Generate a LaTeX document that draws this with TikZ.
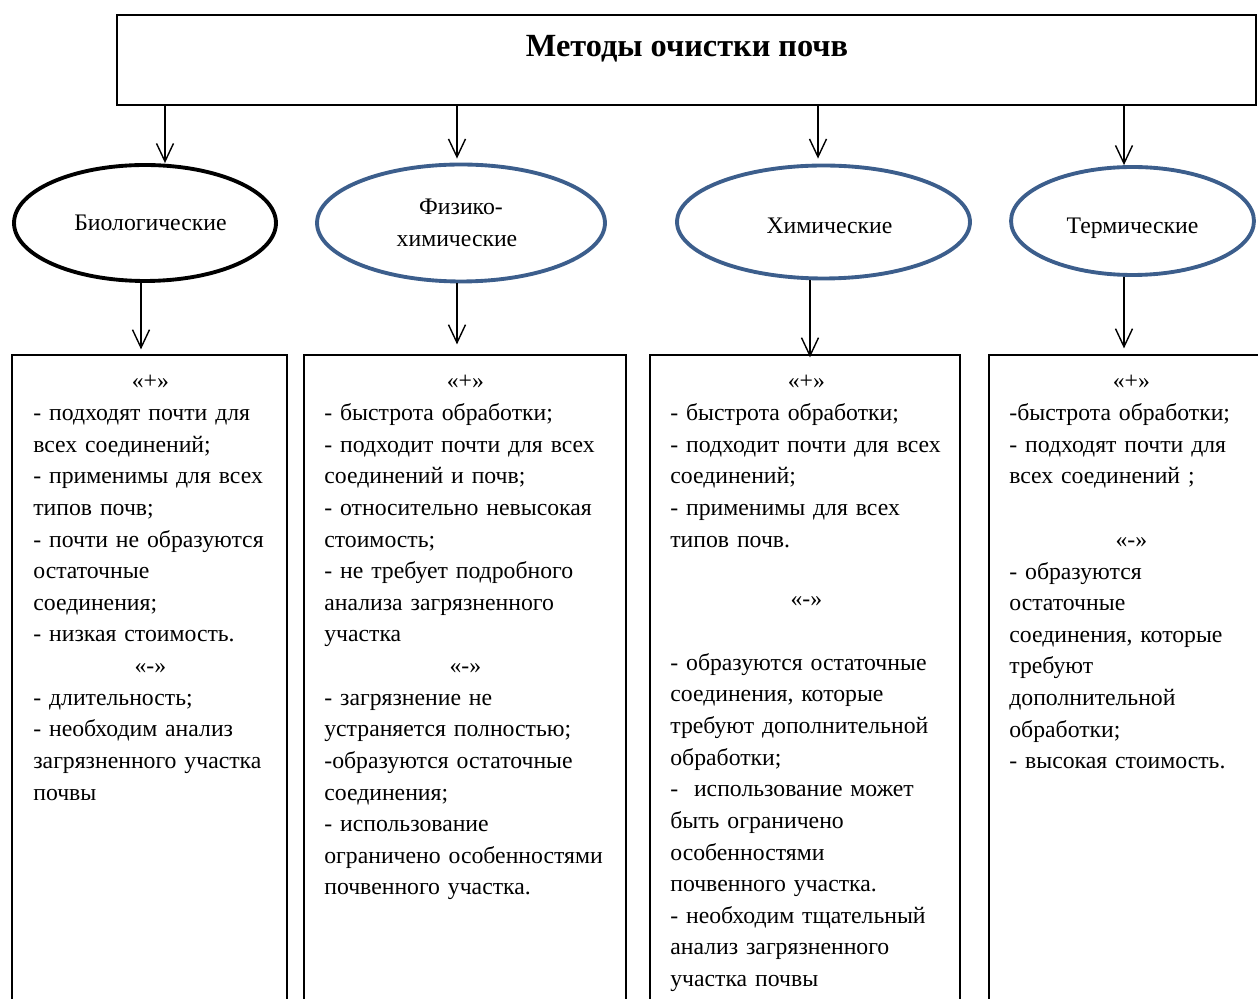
\documentclass[tikz,border=0pt]{standalone}
\usepackage{fontspec}
\setmainfont{Liberation Serif}
\usetikzlibrary{arrows.meta}
\usetikzlibrary{shapes.geometric}

\definecolor{ovalblue}{RGB}{60,94,140}
\newcommand{\signrow}[1]{\makebox[\linewidth]{#1}}

\begin{document}
\begin{tikzpicture}[x=0.02cm,y=-0.02cm,
    arr/.style={-{Straight Barb[length=3.6mm,width=3.4mm]},line width=0.8pt},
    oval/.style={draw,ellipse,line width=2.2pt,inner sep=0pt,align=center,font=\fontsize{13.5}{18.2}\selectfont},
    ovaltext/.style={text height=#1,text depth=0pt},
    listbox/.style={draw,rectangle,line width=0.8pt,minimum height=13.1cm,inner sep=0pt},
    listtext/.style={anchor=base west,text width=#1,align=left,inner sep=0pt,font=\fontsize{13.5}{18}\selectfont}]
            \useasboundingbox (0,0) rectangle (1258,999);
            % header
            \node[draw,line width=1pt,minimum width=22.78cm,minimum height=1.8cm] (methods) at (686.5,60) {};
            \node[anchor=base,font=\fontsize{18.4}{20}\selectfont\bfseries] (title) at (687,57) {Методы очистки почв};
            % groups of methods
            \node[oval,ovaltext=8.9pt,minimum width=5.24cm,minimum height=2.32cm] (bio) at (145,223) {\hspace*{0.22cm}Биологические};
            \node[oval,draw=ovalblue,minimum width=5.76cm,minimum height=2.34cm] (phys) at (461,223) {Физико-\\химические\hspace*{0.16cm}};
            \node[oval,ovaltext=12.9pt,draw=ovalblue,minimum width=5.86cm,minimum height=2.26cm] (chem) at (823.5,222) {\hspace*{0.24cm}Химические};
            \node[oval,ovaltext=14.6pt,draw=ovalblue,minimum width=4.86cm,minimum height=2.16cm] (therm) at (1132.5,221) {Термические};
            \draw[arr] ([xshift=0.4cm]bio.north |- methods.south) -- ([xshift=0.4cm]bio.north);
            \draw[arr] ([xshift=-0.08cm]phys.north |- methods.south) -- ([xshift=-0.08cm,yshift=0.08cm]phys.north);
            \draw[arr] ([xshift=-0.11cm]chem.north |- methods.south) -- ([xshift=-0.11cm,yshift=0.1cm]chem.north);
            \draw[arr] ([xshift=-0.17cm]therm.north |- methods.south) -- ([xshift=-0.17cm]therm.north);
            % pros and cons
            \node[listbox,minimum width=5.5cm] (box1) at (149.5,682.5) {};
            \node[listbox,minimum width=6.44cm] (box2) at (465,682.5) {};
            \node[listbox,minimum width=6.2cm] (box3) at (805,682.5) {};
            \node[listbox,minimum width=5.7cm] (box4) at (1131.5,682.5) {};
            \draw[arr] ([xshift=-0.08cm]bio.south) -- ([xshift=-0.08cm,yshift=0.1cm]bio.south |- box1.north);
            \draw[arr] ([xshift=-0.08cm]phys.south) -- ([xshift=-0.08cm,yshift=0.2cm]phys.south |- box2.north);
            \draw[arr] ([xshift=-0.27cm]chem.south) -- ([xshift=-0.27cm,yshift=-0.06cm]chem.south |- box3.north);
            \draw[arr] ([xshift=-0.17cm]therm.south) -- ([xshift=-0.17cm,yshift=0.12cm]therm.south |- box4.north);
            \node[listtext=4.68cm] (bio text) at (33,389) {\signrow{«+»}\\
                - подходят почти для\\ всех соединений;\\
                - применимы для всех\\ типов почв;\\
                - почти не образуются\\ остаточные\\ соединения;\\
                - низкая стоимость.\\
                \signrow{«-»}\\
                - длительность;\\
                - необходим анализ\\ загрязненного участка\\ почвы};
            \node[listtext=5.64cm] (phys text) at (324,389) {\signrow{«+»}\\
                - быстрота обработки;\\
                - подходит почти для всех\\ соединений и почв;\\
                - относительно невысокая\\ стоимость;\\
                - не требует подробного\\ анализа загрязненного\\ участка\\
                \signrow{«-»}\\
                - загрязнение не\\ устраняется полностью;\\
                -образуются остаточные\\ соединения;\\
                - использование\\ ограничено особенностями\\ почвенного участка.};
            \node[listtext=5.44cm] (chem text) at (670,389) {\signrow{«+»}\\
                - быстрота обработки;\\
                - подходит почти для всех\\ соединений;\\
                - применимы для всех\\ типов почв.\\[0.56cm]
                \signrow{«-»}\\[0.64cm]
                - образуются остаточные\\ соединения, которые\\ требуют дополнительной\\ обработки;\\
                -~~использование может\\ быть ограничено\\ особенностями\\ почвенного участка.\\
                - необходим тщательный\\ анализ загрязненного\\ участка почвы};
            \node[listtext=4.88cm] (therm text) at (1009,389) {\signrow{«+»}\\
                -быстрота обработки;\\
                - подходят почти для\\ всех соединений ;\\[0.64cm]
                \signrow{«-»}\\
                - образуются\\ остаточные\\ соединения, которые\\ требуют\\ дополнительной\\ обработки;\\
                - высокая стоимость.};
        \end{tikzpicture}
\end{document}
